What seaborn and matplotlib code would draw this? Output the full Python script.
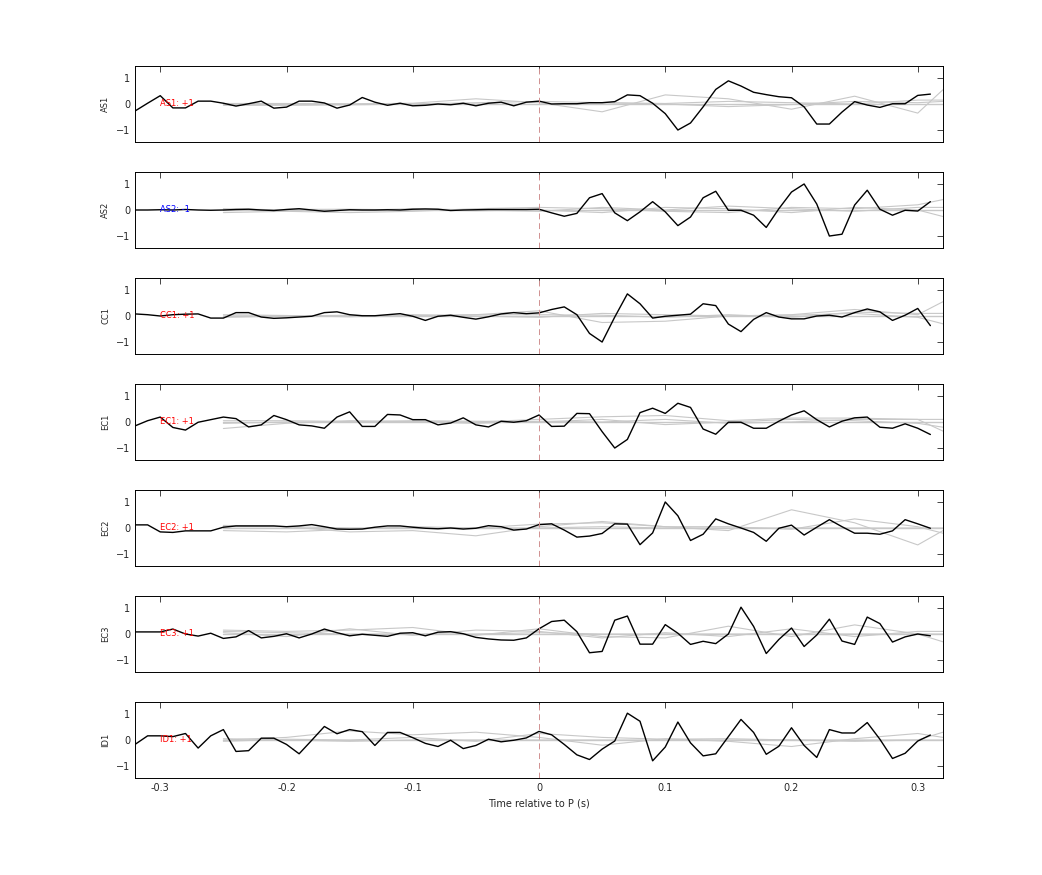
import numpy as np
import pandas as pd
import seaborn as sns
import matplotlib.pyplot as plt

# time axis (s), one sample every 10 ms
time = np.round(np.arange(-0.32, 0.315, 0.01), 2)
gray_time = [-0.25, -0.2, -0.15, -0.1, -0.05, 0.0, 0.05, 0.1, 0.15, 0.2, 0.25, 0.3, 0.32]

stations = ['AS1', 'AS2', 'CC1', 'EC1', 'EC2', 'EC3', 'ID1']
labels = ['AS1: +1', 'AS2: -1', 'CC1: +1', 'EC1: +1', 'EC2: +1', 'EC3: +1', 'ID1: +1']
label_colors = ['red', 'blue', 'red', 'red', 'red', 'red', 'red']

as1 = [-0.27, 0.03, 0.32, -0.15, -0.15, 0.11, 0.11, 0.03, -0.08, 0.01, 0.11, -0.16, -0.12, 0.11, 0.11, 0.04,
       -0.16, -0.04, 0.25, 0.07, -0.05, 0.03, -0.07, -0.05, 0, -0.03, 0.03, -0.07, 0.03, 0.07, -0.07, 0.07,
       0.11, 0, 0.01, 0.01, 0.05, 0.05, 0.09, 0.35, 0.32, 0.03, -0.37, -1.0, -0.73, -0.11, 0.56, 0.89,
       0.69, 0.45, 0.36, 0.28, 0.24, -0.11, -0.77, -0.77, -0.31, 0.09, -0.04, -0.13, 0.01, 0.01, 0.33, 0.38]
as2 = [0, 0, 0.01, 0, 0.02, 0, -0.01, 0, 0.02, 0.03, 0, -0.02, 0.02, 0.05, 0, -0.05, -0.02, 0.01, 0, 0,
       0.01, 0, 0.03, 0.04, 0.03, -0.02, 0, 0.01, 0.02, 0.02, 0.02, 0.02,
       0.03, -0.11, -0.24, -0.13, 0.47, 0.63, -0.11, -0.41, -0.07, 0.32, -0.07, -0.6, -0.27, 0.47, 0.72,
       -0.01, -0.01, -0.2, -0.67, 0.05, 0.69, 1.0, 0.23, -1.0, -0.93, 0.19, 0.76, 0.03, -0.2, -0.01, -0.04, 0.32]
cc1 = [0.08, 0.05, 0, 0.05, 0.07, 0.08, -0.08, -0.08, 0.13, 0.13, -0.04, -0.09, -0.07, -0.04, -0.01, 0.13,
       0.16, 0.05, 0.01, 0.01, 0.05, 0.09, -0.01, -0.17, -0.01, 0.03, -0.05, -0.12, -0.03, 0.08, 0.13, 0.09,
       0.12, 0.25, 0.35, 0.05, -0.67, -1.0, -0.04, 0.85, 0.47, -0.08, -0.01, 0.03, 0.07, 0.47, 0.4, -0.31,
       -0.6, -0.13, 0.13, -0.04, -0.11, -0.11, 0, 0.03, -0.04, 0.13, 0.27, 0.16, -0.17, 0.03, 0.29, -0.37]
ec1 = [-0.15, 0.05, 0.19, -0.21, -0.31, -0.01, 0.09, 0.19, 0.13, -0.19, -0.11, 0.25, 0.09, -0.11, -0.15, -0.24,
       0.19, 0.39, -0.17, -0.17, 0.29, 0.27, 0.09, 0.09, -0.11, -0.04, 0.16, -0.11, -0.19, 0.03, -0.01, 0.05,
       0.27, -0.17, -0.16, 0.33, 0.32, -0.37, -1.0, -0.67, 0.36, 0.53, 0.33, 0.72, 0.56, -0.27, -0.47, -0.01,
       -0.01, -0.24, -0.24, 0.03, 0.27, 0.43, 0.09, -0.19, 0.03, 0.16, 0.19, -0.2, -0.24, -0.07, -0.24, -0.48]
ec2 = [0.12, 0.12, -0.15, -0.17, -0.11, -0.11, -0.11, 0.03, 0.08, 0.08, 0.08, 0.08, 0.05, 0.08, 0.13, 0.05,
       -0.04, -0.05, -0.04, 0.03, 0.08, 0.08, 0.03, -0.01, -0.03, 0, -0.04, -0.01, 0.09, 0.05, -0.08, -0.04,
       0.13, 0.16, -0.08, -0.35, -0.31, -0.21, 0.16, 0.15, -0.64, -0.19, 1.0, 0.47, -0.48, -0.24, 0.35, 0.16,
       0, -0.17, -0.51, -0.01, 0.11, -0.27, 0.03, 0.32, 0.05, -0.2, -0.2, -0.24, -0.11, 0.32, 0.16, -0.01]
ec3 = [0.08, 0.08, 0.08, 0.19, 0, -0.08, 0.03, -0.17, -0.11, 0.13, -0.15, -0.09, 0.01, -0.15, 0, 0.19,
       0.05, -0.07, -0.01, -0.05, -0.09, 0.03, 0.05, -0.07, 0.07, 0.09, 0.01, -0.13, -0.19, -0.23, -0.24, -0.15,
       0.2, 0.48, 0.53, 0.09, -0.72, -0.67, 0.53, 0.69, -0.39, -0.39, 0.36, 0.03, -0.4, -0.28, -0.37, 0,
       1.03, 0.29, -0.75, -0.21, 0.23, -0.48, -0.04, 0.57, -0.27, -0.4, 0.65, 0.4, -0.31, -0.11, 0, -0.07]
id1 = [-0.17, 0.16, 0.16, 0.13, 0.25, -0.31, 0.16, 0.4, -0.44, -0.41, 0.07, 0.07, -0.17, -0.53, -0.01, 0.52,
       0.24, 0.4, 0.32, -0.21, 0.29, 0.29, 0.09, -0.13, -0.25, -0.01, -0.33, -0.21, 0.03, -0.07, -0.01, 0.08,
       0.33, 0.2, -0.17, -0.57, -0.75, -0.35, -0.04, 1.03, 0.72, -0.8, -0.27, 0.69, -0.11, -0.61, -0.53, 0.13,
       0.79, 0.29, -0.55, -0.24, 0.47, -0.21, -0.67, 0.4, 0.27, 0.27, 0.67, 0.03, -0.71, -0.51, -0.04, 0.19]
traces = [as1, as2, cc1, ec1, ec2, ec3, id1]

# faint comparison traces (gray), three per station
gray_as1 = [[0, 0, 0, 0.03, 0.2, 0.05, -0.3, 0.35, 0.2, -0.2, 0.3, -0.35, 0.55],
            [-0.05, -0.05, -0.03, 0, 0.05, 0.1, 0.05, 0.02, 0.1, 0.05, 0.0, 0.15, 0.15],
            [0.02, 0.02, 0, 0, 0, -0.02, 0.05, 0, -0.1, -0.02, 0.1, 0.05, 0.1]]
gray_as2 = [[-0.1, -0.05, -0.1, -0.05, 0.05, 0.1, 0.05, -0.05, -0.1, 0.1, 0.05, 0.2, 0.4],
            [0, 0.02, 0.03, 0, -0.03, 0, -0.1, 0.1, 0.05, -0.1, 0.1, 0, -0.25],
            [0.05, 0, -0.02, 0.05, 0, -0.05, 0.1, 0, 0.15, 0.05, -0.05, 0.1, 0.1]]
gray_cc1 = [[0, 0, 0, 0.02, 0.05, 0.2, -0.25, -0.2, 0, 0.05, 0.25, 0.05, 0.55],
            [0.05, 0.02, -0.03, 0.05, 0, -0.05, 0.1, 0.05, 0, 0.03, 0.1, -0.05, -0.3],
            [-0.05, 0, 0.03, -0.02, 0.05, 0.05, 0.03, -0.05, 0.05, -0.05, 0.15, 0.1, 0.1]]
gray_ec1 = [[-0.25, -0.05, 0.05, 0.02, 0, 0.1, 0.2, 0.25, 0.05, 0.15, 0.15, 0.1, -0.35],
            [-0.05, 0, 0, 0.05, 0.03, 0, 0.1, -0.1, 0.0, 0.1, 0.05, -0.05, -0.2],
            [0.05, 0.05, 0.02, 0, -0.05, 0.03, 0, 0.1, -0.05, 0.0, 0.1, 0.1, 0.1]]
gray_ec2 = [[0.1, 0.05, -0.15, -0.1, -0.3, 0.05, 0.25, 0.05, -0.1, 0.7, 0.2, -0.65, -0.1],
            [-0.1, -0.15, -0.05, 0.05, 0, 0.15, 0.2, 0.05, 0.05, -0.05, 0.35, 0.05, -0.2],
            [0.05, 0.05, 0, 0, 0, 0, 0.05, 0.0, 0, 0, 0, 0, 0]]
gray_ec3 = [[0.15, 0.1, 0.15, 0.25, -0.05, 0.2, -0.1, -0.15, 0.3, -0.1, 0.35, 0, -0.3],
            [0.05, -0.1, 0.2, -0.05, 0.15, 0.1, -0.15, 0.05, -0.1, 0.2, -0.1, 0.1, 0.1],
            [0.1, 0.05, 0, 0, 0, 0.05, 0, 0, 0, 0, 0, 0, 0]]
gray_id1 = [[0, 0.1, 0.35, 0.2, 0.3, 0.1, -0.2, 0.05, -0.05, -0.25, 0.05, 0.25, 0.1],
            [-0.05, 0.03, 0, 0.1, -0.05, 0.25, 0.1, 0.03, 0.05, 0.0, -0.05, 0, 0.3],
            [0.05, 0, -0.05, 0, 0, 0, 0, 0, 0, 0, 0, 0, 0]]
grays = [gray_as1, gray_as2, gray_cc1, gray_ec1, gray_ec2, gray_ec3, gray_id1]

sns.set_style('white')
fig = plt.figure(figsize=(10.42, 8.75), dpi=100)

for i, st in enumerate(stations):
    bottom = 1 - (66 + 76 + 106 * i) / 875
    ax = fig.add_axes([135 / 1042, bottom, 808 / 1042, 76 / 875])
    for g in grays[i]:
        sns.lineplot(x=gray_time, y=g, ax=ax, color='#c8c8c8', lw=0.8)
    ax.plot([-0.25, 0.32], [0, 0], color='#c8c8c8', lw=1.0)
    sns.lineplot(x=time, y=traces[i], ax=ax, color='black', lw=1.0)
    ax.axvline(0, color='#d09090', lw=0.7, ls=(0, (6, 4)))
    ax.text(-0.3, 0, labels[i], color=label_colors[i], fontsize=6,
            va='center', ha='left', zorder=10)
    ax.set_xlim(-0.32, 0.32)
    ax.set_ylim(-1.46, 1.46)
    ax.set_yticks([-1, 0, 1])
    ax.set_xticks([-0.3, -0.2, -0.1, 0, 0.1, 0.2, 0.3])
    ax.tick_params(direction='in', top=True, right=True, length=4, labelsize=7, width=0.6)
    ax.set_ylabel(st, fontsize=6)
    for s in ax.spines.values():
        s.set_linewidth(0.7)
        s.set_color('black')
    if i < len(stations) - 1:
        ax.set_xticklabels([])
    else:
        ax.set_xticklabels(['-0.3', '-0.2', '-0.1', '0', '0.1', '0.2', '0.3'])
        ax.set_xlabel('Time relative to P (s)', fontsize=7)

fig.savefig('out.png', dpi=100)
